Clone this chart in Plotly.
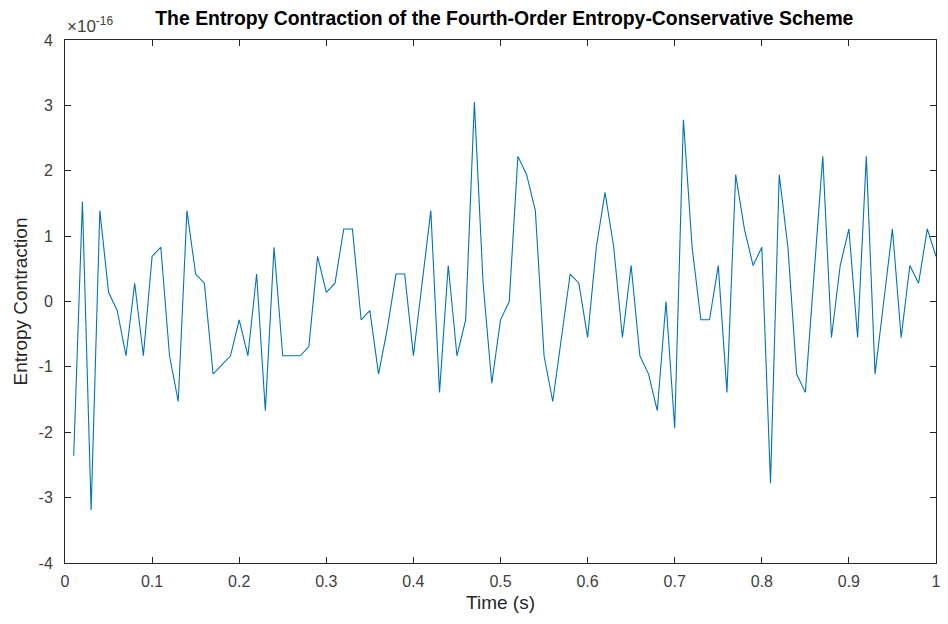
import plotly.graph_objects as go

# Sample times (s)
time_s = [round(0.01 * k, 2) for k in range(1, 101)]

# Entropy contraction, in units of 1e-16
entropy_contraction = [
    -2.36, 1.53, -3.19, 1.39, 0.14, -0.14, -0.83, 0.28, -0.83, 0.69,
    0.83, -0.83, -1.53, 1.39, 0.42, 0.28, -1.11, -0.97, -0.83, -0.28,
    -0.83, 0.42, -1.67, 0.83, -0.83, -0.83, -0.83, -0.69, 0.69, 0.14,
    0.28, 1.11, 1.11, -0.28, -0.14, -1.11, -0.42, 0.42, 0.42, -0.83,
    0.28, 1.39, -1.39, 0.55, -0.83, -0.28, 3.05, 0.28, -1.25, -0.28,
    0.00, 2.22, 1.94, 1.39, -0.83, -1.53, -0.55, 0.42, 0.28, -0.55,
    0.83, 1.67, 0.83, -0.55, 0.55, -0.83, -1.11, -1.67, 0.00, -1.94,
    2.78, 0.83, -0.28, -0.28, 0.55, -1.39, 1.94, 1.11, 0.55, 0.83,
    -2.78, 1.94, 0.83, -1.11, -1.39, 0.42, 2.22, -0.55, 0.55, 1.11,
    -0.55, 2.22, -1.11, 0.00, 1.11, -0.55, 0.55, 0.28, 1.11, 0.69,
]

x_ticks = [0, 0.1, 0.2, 0.3, 0.4, 0.5, 0.6, 0.7, 0.8, 0.9, 1]
x_tick_labels = ["0", "0.1", "0.2", "0.3", "0.4", "0.5", "0.6", "0.7", "0.8", "0.9", "1"]
y_ticks = [-4, -3, -2, -1, 0, 1, 2, 3, 4]
y_tick_labels = ["-4", "-3", "-2", "-1", "0", "1", "2", "3", "4"]

axis_color = "#262626"
font_family = "Liberation Sans, Arial, sans-serif"

fig = go.Figure()
fig.add_trace(go.Scatter(
    x=time_s, y=entropy_contraction, mode="lines",
    line=dict(color="#0072BD", width=1.1),
    showlegend=False,
))

axis_common = dict(
    showgrid=False, zeroline=False,
    showline=True, linecolor=axis_color, linewidth=1, mirror="ticks",
    ticks="inside", ticklen=6, tickwidth=1, tickcolor=axis_color,
    tickfont=dict(family=font_family, size=16, color="#404040"),
)

fig.update_layout(
    width=948, height=624,
    margin=dict(l=65, r=7, t=40, b=61),
    paper_bgcolor="white", plot_bgcolor="white",
    title=dict(
        text="<b>The Entropy Contraction of the Fourth-Order Entropy-Conservative Scheme</b>",
        x=0.532, xanchor="center", y=0.971, yanchor="middle",
        font=dict(family=font_family, size=19.4, color="black"),
    ),
    xaxis=dict(
        range=[0, 1], tickvals=x_ticks, ticktext=x_tick_labels,
        ticklabelstandoff=4,
        title=dict(text="Time (s)", font=dict(family=font_family, size=19, color=axis_color), standoff=6),
        **axis_common,
    ),
    yaxis=dict(
        range=[-4, 4], tickvals=y_ticks, ticktext=y_tick_labels,
        ticklabelstandoff=8,
        title=dict(text="Entropy Contraction", font=dict(family=font_family, size=19, color=axis_color), standoff=5),
        **axis_common,
    ),
    annotations=[dict(
        text="\u00d710<sup>-16</sup>", xref="paper", yref="paper",
        x=0.0, y=1.0, xanchor="left", yanchor="bottom", yshift=2,
        showarrow=False, font=dict(family=font_family, size=17, color="#404040"),
    )],
)

fig.write_html("out.html")
